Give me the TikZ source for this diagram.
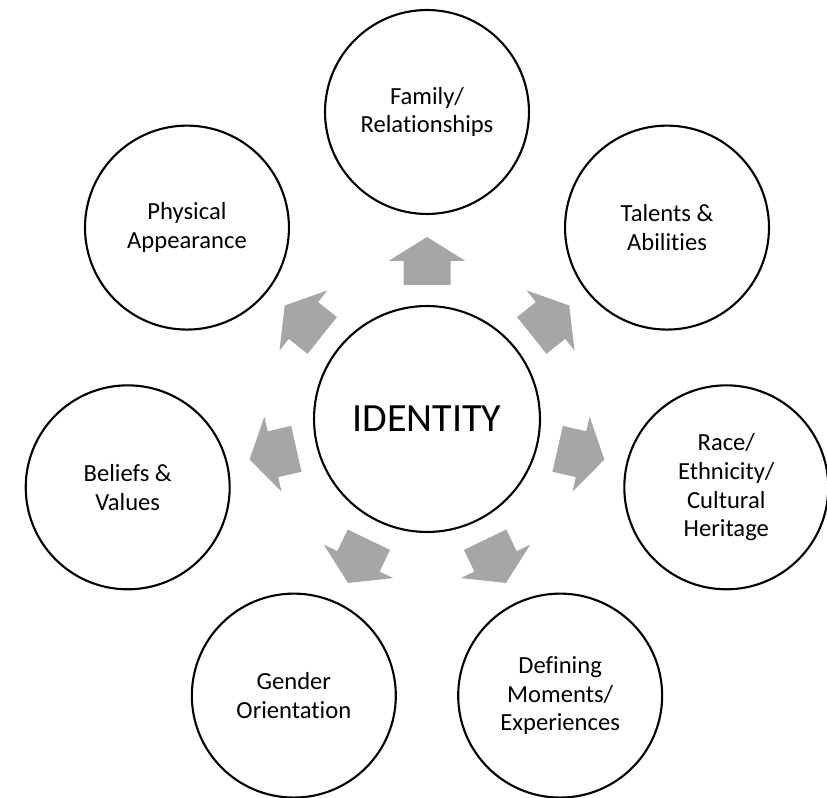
\documentclass[tikz,border=0pt]{standalone}
\usepackage{fontspec}
\setmainfont{Carlito}[Ligatures=NoCommon]
\begin{document}
\begin{tikzpicture}[x=0.02cm, y=0.02cm,
    facet/.style={circle, draw, line width=1.2pt, minimum size=4.08cm, inner sep=0pt, align=center, font=\fontsize{14}{16.4}\selectfont},
    core/.style={circle, draw, line width=1.2pt, minimum size=4.52cm, inner sep=0pt, font=\fontsize{22.8}{27}\selectfont},
    blockarrow/.style={fill=black!35}]
    \useasboundingbox (-427,-378) rectangle (400,419);
    % Nodes
    \node[core] (identity) at (0,0) {IDENTITY};
    \node[facet] (family) at (90:307) {Family/\\Relationships};
    \node[facet] (talents) at (38.57:307) {Talents \&\\Abilities};
    \node[facet] (race) at (-12.86:307) {Race/\\Ethnicity/\\Cultural\\Heritage};
    \node[facet] (moments) at (-64.29:307) {Defining\\Moments/\\Experiences};
    \node[facet] (gender) at (-115.71:307) {Gender\\Orientation};
    \node[facet] (beliefs) at (192.86:307) {Beliefs \&\\Values};
    \node[facet] (physical) at (141.43:307) {Physical\\Appearance};
    % Arrows
    \foreach \a in {90, 38.57, -12.86, -64.29, -115.71, 192.86, 141.43} {
        \fill[blockarrow, rotate=\a-90] (-23.5,134) -- (-23.5,158) -- (-38.5,158) -- (0,182)
            -- (38.5,158) -- (23.5,158) -- (23.5,134) -- cycle;
    }
\end{tikzpicture}
\end{document}
